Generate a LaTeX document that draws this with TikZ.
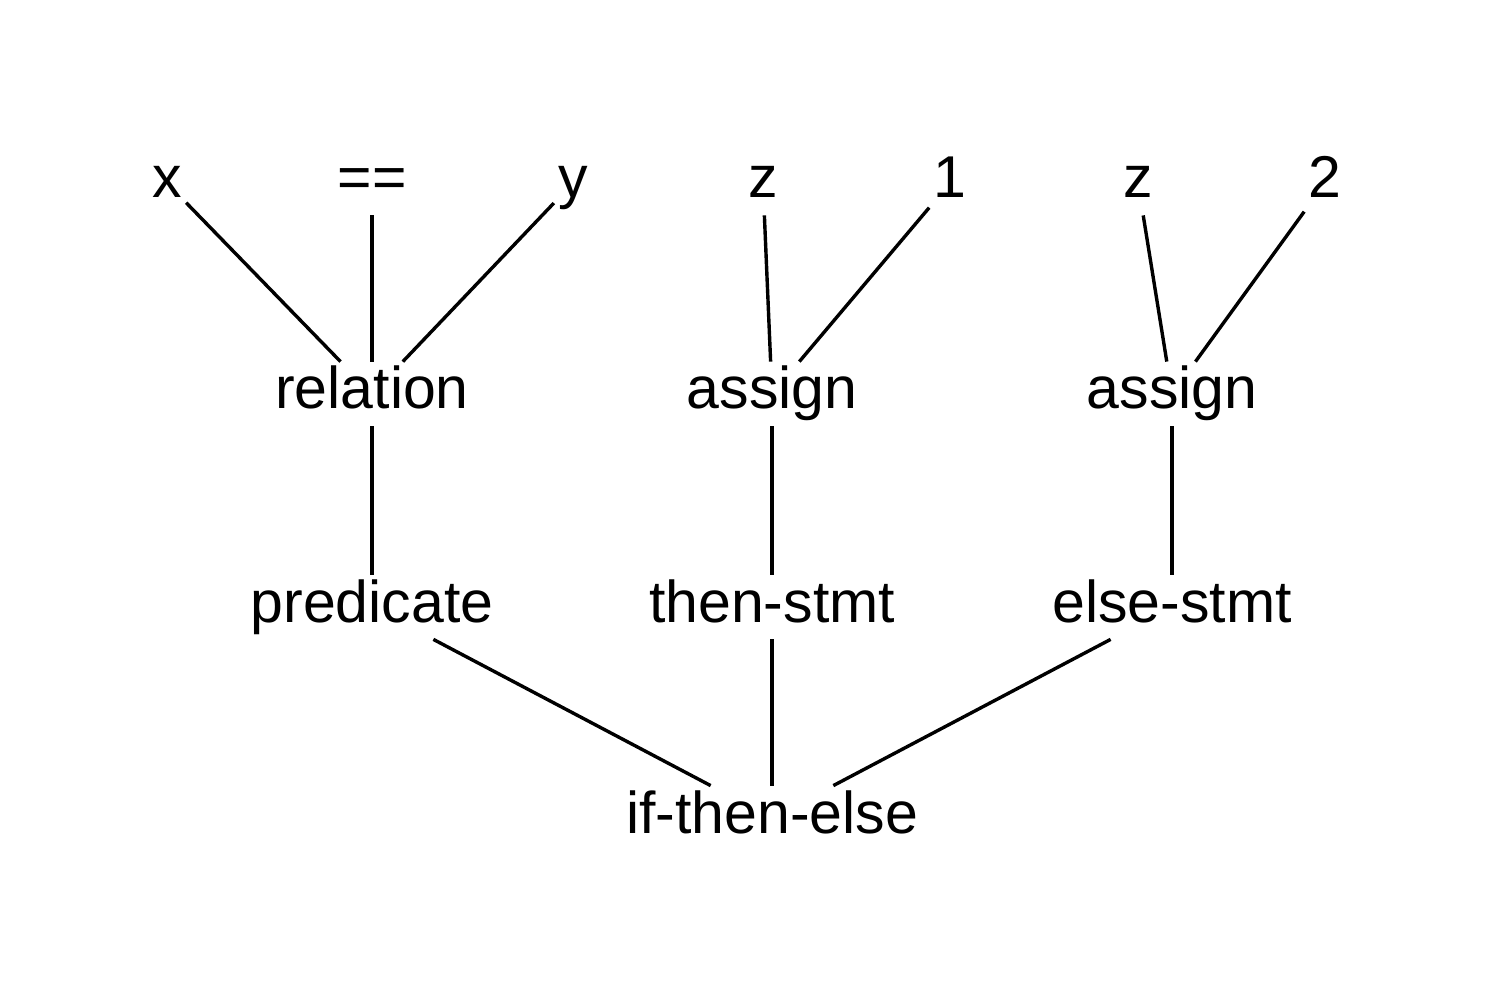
\documentclass[tikz,border=0pt]{standalone}
\usepackage{fontspec}
\setmainfont{Liberation Sans}
\begin{document}
\begin{tikzpicture}[x=0.5pt,y=-0.5pt,
  lab/.style={anchor=base,inner sep=2pt,text height=21.5pt,text depth=6.5pt,font=\fontsize{29.5}{34}\selectfont},
  edge/.style={line width=1.7pt}]
\useasboundingbox (0,0) rectangle (1496,1000);
\node[lab] (x) at (167,198) {x};
\node[lab] (eq) at (372,198) {==};
\node[lab] (y) at (573,198) {y};
\node[lab] (z1) at (763,198) {z};
\node[lab] (one) at (950,198) {1};
\node[lab] (z2) at (1138,198) {z};
\node[lab] (two) at (1325,198) {2};
\node[lab] (rel) at (372,409) {relation};
\node[lab] (as1) at (772,409) {assign};
\node[lab] (as2) at (1172,409) {assign};
\node[lab] (pred) at (372,622) {predicate};
\node[lab] (then) at (772,622) {then-stmt};
\node[lab] (else) at (1172,622) {else-stmt};
\node[lab] (ite) at (772,833) {if-then-else};
\draw[edge] (rel) -- (x);
\draw[edge] (rel) -- (eq);
\draw[edge] (rel) -- (y);
\draw[edge] (as1) -- (z1);
\draw[edge] (as1) -- (one);
\draw[edge] (as2) -- (z2);
\draw[edge] (as2) -- (two);
\draw[edge] (pred) -- (rel);
\draw[edge] (then) -- (as1);
\draw[edge] (else) -- (as2);
\draw[edge] (ite) -- (pred);
\draw[edge] (ite) -- (then);
\draw[edge] (ite) -- (else);
\end{tikzpicture}
\end{document}
